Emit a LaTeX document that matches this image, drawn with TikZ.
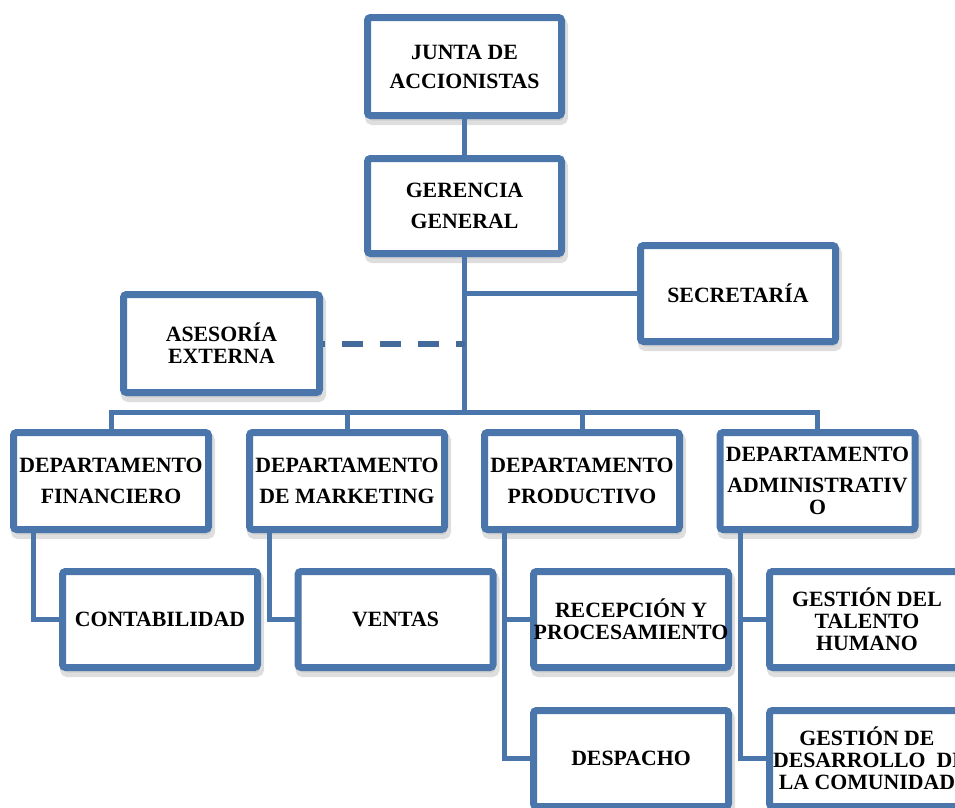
\documentclass[tikz,border=0pt]{standalone}
\usepackage{fontspec}
\setmainfont{Liberation Serif}
\usetikzlibrary{shadows}
\definecolor{boxblue}{RGB}{74,118,172}
\definecolor{shadowgray}{RGB}{190,190,190}
\tikzset{
  orgbox/.style={draw=boxblue, line width=7pt, fill=white, rounded corners=3pt,
    inner sep=0pt, align=center, minimum width=195pt,
    font=\bfseries\fontsize{21.8}{22}\selectfont,
    drop shadow={shadow xshift=2pt, shadow yshift=-5pt, fill=shadowgray, draw=shadowgray, line width=9pt}},
  link/.style={draw=boxblue, line width=5pt},
  dashlink/.style={draw=boxblue!90!black, line width=6pt, dash pattern=on 21pt off 17pt, dash phase=19pt}
}
\begin{document}
\begin{tikzpicture}[x=1pt,y=-1pt]
\useasboundingbox (0,0) rectangle (955,807);
% top
\node[orgbox, minimum width=194pt, minimum height=98pt] (junta) at (464.5,66.5) {JUNTA DE\\[7pt]ACCIONISTAS};
\node[orgbox, minimum width=194pt, minimum height=95pt] (ger) at (464.5,206) {GERENCIA\\[9pt]GENERAL};
\node[orgbox, minimum height=96pt] (sec) at (738,293.5) {SECRETARÍA};
\node[orgbox, minimum width=196pt, minimum height=98pt] (ase) at (221.5,343.5) {ASESORÍA\\EXTERNA};
% departments
\node[orgbox, minimum height=97pt] (fin) at (111,481) {DEPARTAMENTO\\[9pt]FINANCIERO};
\node[orgbox, minimum height=97pt] (mkt) at (347,481) {DEPARTAMENTO\\[9pt]DE MARKETING};
\node[orgbox, minimum height=97pt] (prod) at (582,481) {DEPARTAMENTO\\[9pt]PRODUCTIVO};
\node[orgbox, minimum height=97pt] (adm) at (817.5,481) {DEPARTAMENTO\\[9pt]ADMINISTRATIV\\O};
% sub units
\node[orgbox, minimum height=96pt] (cont) at (160,619.5) {CONTABILIDAD};
\node[orgbox, minimum height=96pt] (vent) at (395.5,619.5) {VENTAS};
\node[orgbox, minimum height=96pt] (recep) at (631,619.5) {RECEPCIÓN Y\\\makebox[185pt][c]{PROCESAMIENTO}};
\node[orgbox, minimum height=96pt] (tal) at (867,619.5) {GESTIÓN DEL\\TALENTO\\HUMANO};
\node[orgbox, minimum height=96pt] (desp) at (631,758.5) {DESPACHO};
\node[orgbox, minimum height=96pt] (des) at (867,758.5) {GESTIÓN DE\\\makebox[188pt][l]{DESARROLLO\ \ DE}\\LA COMUNIDAD};
% connectors
\coordinate (busc) at (464.5,412);
\coordinate (finx) at ([xshift=-78pt]fin.south);
\coordinate (mktx) at ([xshift=-78pt]mkt.south);
\coordinate (prodx) at ([xshift=-78pt]prod.south);
\coordinate (admx) at ([xshift=-77.5pt]adm.south);
\draw[link] (junta.south) -- (ger.north);
\draw[link] (ger.south) -- (busc);
\draw[link] (sec.west) -- (sec.west -| ger.south);
\draw[dashlink] (ase.east) -- (ase.east -| ger.south);
\draw[link] (fin.north) |- (busc) -| (adm.north);
\draw[link] (mkt.north) -- (mkt.north |- busc);
\draw[link] (prod.north) -- (prod.north |- busc);
\draw[link] (finx) |- (cont.west);
\draw[link] (mktx) |- (vent.west);
\draw[link] (prodx) |- (desp.west);
\draw[link] (recep.west) -- (recep.west -| prodx);
\draw[link] (admx) |- (des.west);
\draw[link] (tal.west) -- (tal.west -| admx);
\end{tikzpicture}
\end{document}
